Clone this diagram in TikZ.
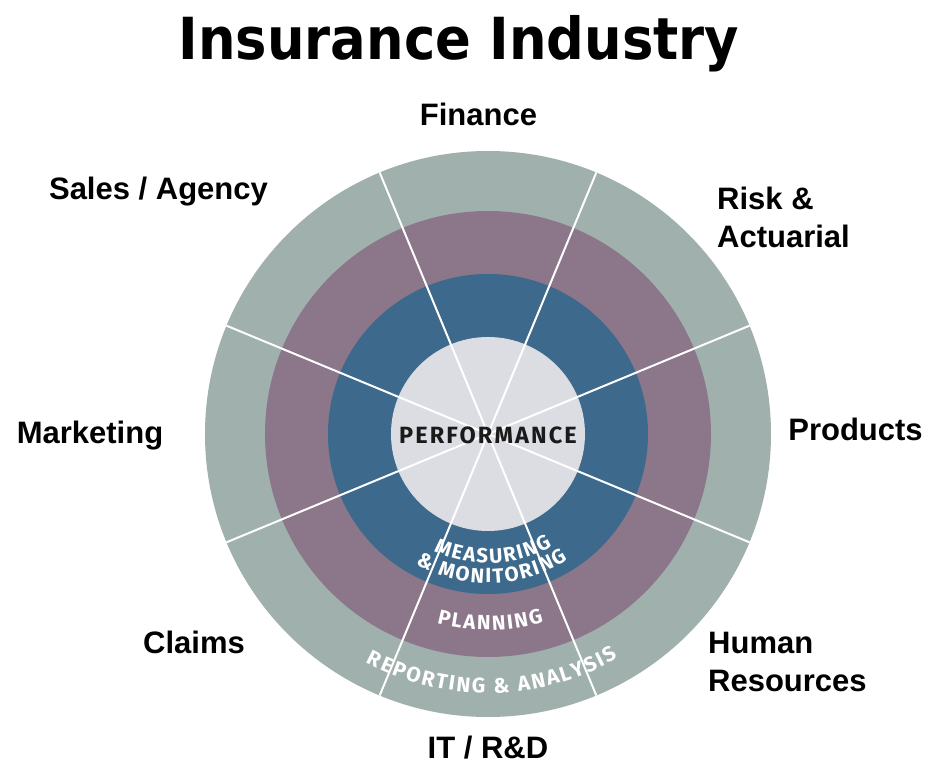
\documentclass[tikz,border=0pt]{standalone}
\usepackage{fontspec}
\setmainfont{Liberation Sans}
\newfontfamily\titlefont{DejaVu Sans}
\newfontfamily\ringfont{Fira Sans}
\definecolor{outerc}{HTML}{A0B0AC}
\definecolor{purplec}{HTML}{8B768A}
\definecolor{bluec}{HTML}{3D6A8C}
\definecolor{innerc}{HTML}{DCDDE2}
\definecolor{perfc}{HTML}{1A1A1A}
\newlength\arcw
% #1 name prefix, #2 baseline radius (pt), #3 centre angle, #4 tracking (pt), #5 font, #6 colour, #7 characters
\newcommand\arctext[7]{%
  \gdef\arctot{0}%
  \foreach \ch in {#7}{%
    \setbox0=\hbox{\pgfinterruptpicture#5\ch\endpgfinterruptpicture}\global\arcw=\wd0
    \pgfmathsetmacro\mytmp{\arctot+\the\arcw+#4}%
    \xdef\arctot{\mytmp}%
  }%
  \pgfmathsetmacro\arcstart{#3-(\arctot-#4)/2/#2*180/pi}%
  \xdef\arcstart{\arcstart}%
  \gdef\arccum{0}%
  \foreach \ch [count=\i] in {#7}{%
    \setbox0=\hbox{\pgfinterruptpicture#5\ch\endpgfinterruptpicture}\global\arcw=\wd0
    \pgfmathsetmacro\ang{\arcstart+(\arccum+0.5*\the\arcw)/#2*180/pi}%
    \node[arcchar, text=#6, font={#5}, rotate=\ang+90] (#1-\i) at (\ang:#2pt) {\ch};
    \pgfmathsetmacro\mytmp{\arccum+\the\arcw+#4}%
    \xdef\arccum{\mytmp}%
  }%
}
\newcommand\ringtext{\ringfont\bfseries\fontsize{20.5}{20.5}\selectfont}
\tikzset{
  arcchar/.style={anchor=base, inner sep=0pt, outer sep=0pt},
  label/.style={font=\bfseries\fontsize{31}{38}\selectfont, inner sep=0pt, text=black},
  spoke/.style={white, line width=2pt},
}
\begin{document}
\begin{tikzpicture}
\useasboundingbox (-488pt,-341pt) rectangle (455pt,434pt);
\coordinate (c) at (0,0);
\fill[outerc] (c) circle (283pt);
\fill[purplec] (c) circle (223pt);
\fill[bluec] (c) circle (160pt);
\fill[innerc] (c) circle (97pt);
\foreach \k in {0,...,7}{
  \coordinate (e\k) at ({22.5+45*\k}:283pt);
  \draw[spoke] (c) -- (e\k);
}
\node[inner sep=0pt, text=perfc, font={\ringfont\bfseries\fontsize{23.5}{23.5}\selectfont\addfontfeature{LetterSpace=9}}] (perf) at (0pt,-1pt) {PERFORMANCE};
\arctext{ms}{129}{272.5}{1.7}{\ringtext}{white}{M,E,A,S,U,R,I,N,G}
\arctext{mo}{149}{271.7}{1.7}{\ringtext}{white}{\&,~,M,O,N,I,T,O,R,I,N,G}
\arctext{pl}{196}{270.7}{1.9}{\ringtext}{white}{P,L,A,N,N,I,N,G}
\arctext{ra}{259}{271}{1.9}{\ringfont\bfseries\fontsize{21}{21}\selectfont}{white}{R,E,P,O,R,T,I,N,G,~,\&,~,A,N,A,L,Y,S,I,S}
\node[inner sep=0pt, anchor=base] (title) at (-29pt,374pt) {\scalebox{0.91}[1]{\titlefont\bfseries\fontsize{58}{58}\selectfont Insurance Industry}};
\node[label, anchor=base] (fin) at (-9.5pt,308pt) {Finance};
\node[label, anchor=base] (sales) at (-329.5pt,234pt) {Sales / Agency};
\node[label, anchor=base west, align=left] (risk) at (229pt,186pt) {Risk \&\\Actuarial};
\node[label, anchor=base] (mkt) at (-398pt,-10pt) {Marketing};
\node[label, anchor=base] (prod) at (367.5pt,-7pt) {Products};
\node[label, anchor=base west, align=left] (hr) at (220pt,-258pt) {Human\\Resources};
\node[label, anchor=base] (claims) at (-294pt,-220pt) {Claims};
\node[label, anchor=base] (it) at (0pt,-325pt) {IT / R\&D};
\end{tikzpicture}
\end{document}
